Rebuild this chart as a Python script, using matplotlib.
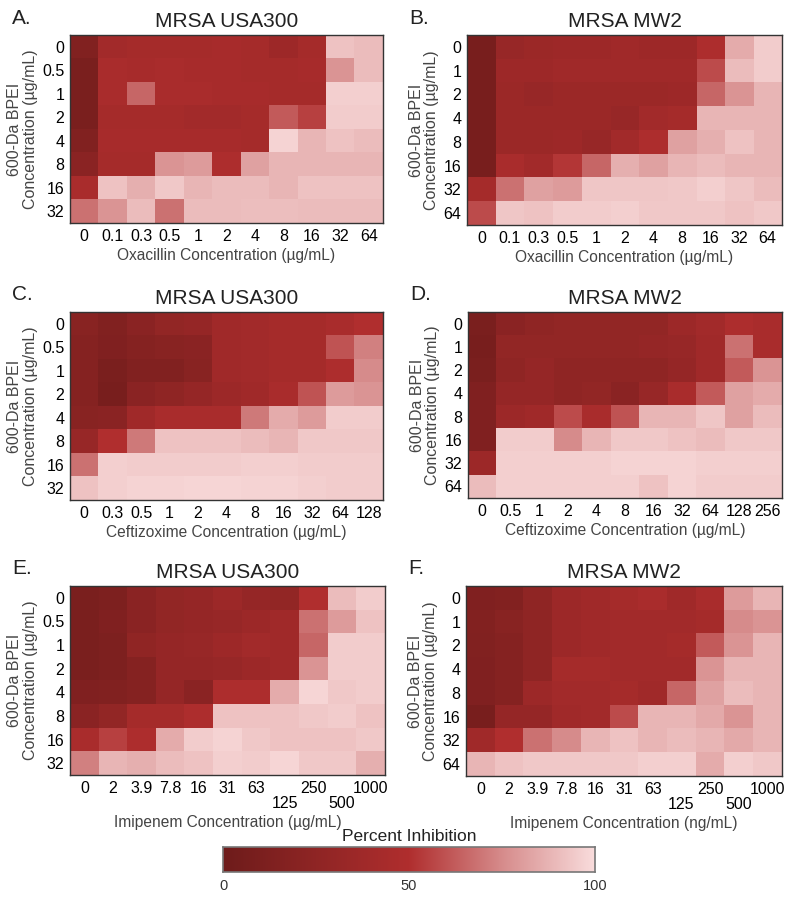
import numpy as np
import matplotlib
matplotlib.use("Agg")
import matplotlib.pyplot as plt
from matplotlib.colors import LinearSegmentedColormap

plt.rcParams['font.family'] = ['Liberation Sans', 'DejaVu Sans']

# --- data (percent inhibition) ---
oxa_labels = ['0', '0.1', '0.3', '0.5', '1', '2', '4', '8', '16', '32', '64']
cef_labels_a = ['0', '0.3', '0.5', '1', '2', '4', '8', '16', '32', '64', '128']
cef_labels_b = ['0', '0.5', '1', '2', '4', '8', '16', '32', '64', '128', '256']
imi_labels = ['0', '2', '3.9', '7.8', '16', '31', '63', '125', '250', '500', '1000']
bpei_usa = ['0', '0.5', '1', '2', '4', '8', '16', '32']
bpei_mw2 = ['0', '1', '2', '4', '8', '16', '32', '64']

oxa_usa300 = [
    [15, 40, 42, 42, 42, 44, 42, 36, 42, 92, 90],
    [10, 45, 44, 45, 44, 44, 42, 42, 44, 78, 90],
    [10, 45, 65, 45, 45, 44, 44, 42, 42, 96, 96],
    [10, 42, 42, 42, 40, 40, 42, 62, 55, 95, 95],
    [15, 44, 44, 44, 44, 44, 42, 97, 88, 92, 90],
    [22, 42, 42, 78, 80, 48, 82, 88, 88, 88, 88],
    [45, 92, 86, 94, 88, 90, 90, 88, 92, 92, 92],
    [68, 78, 90, 68, 90, 90, 91, 91, 90, 90, 90],
]
oxa_mw2 = [
    [8, 32, 34, 36, 36, 38, 36, 36, 48, 85, 95],
    [8, 36, 36, 38, 38, 38, 38, 38, 58, 90, 95],
    [8, 34, 32, 34, 34, 34, 34, 36, 65, 78, 88],
    [8, 34, 34, 34, 34, 32, 40, 42, 88, 88, 88],
    [8, 34, 34, 36, 32, 40, 48, 82, 86, 92, 88],
    [8, 45, 40, 52, 65, 86, 82, 88, 90, 88, 88],
    [42, 68, 82, 80, 93, 93, 93, 94, 96, 93, 90],
    [58, 93, 92, 95, 95, 96, 94, 94, 94, 92, 94],
]
cef_usa300 = [
    [20, 15, 22, 28, 30, 38, 40, 42, 42, 45, 50],
    [18, 14, 18, 20, 22, 38, 40, 42, 42, 60, 72],
    [18, 10, 15, 15, 20, 38, 40, 42, 42, 48, 75],
    [18, 8, 22, 25, 30, 35, 38, 45, 60, 80, 78],
    [20, 22, 38, 45, 45, 45, 70, 85, 80, 95, 95],
    [32, 50, 70, 92, 92, 92, 90, 88, 94, 94, 94],
    [68, 96, 95, 95, 95, 95, 96, 96, 95, 95, 95],
    [92, 96, 97, 97, 98, 98, 97, 97, 96, 95, 95],
]
cef_mw2 = [
    [10, 22, 25, 28, 28, 28, 28, 35, 40, 48, 45],
    [8, 28, 28, 28, 28, 28, 30, 32, 38, 68, 45],
    [10, 25, 30, 25, 25, 25, 25, 30, 38, 62, 78],
    [14, 30, 30, 25, 28, 22, 32, 45, 62, 82, 85],
    [14, 35, 38, 58, 45, 60, 88, 88, 93, 82, 90],
    [14, 95, 95, 75, 88, 94, 94, 92, 90, 94, 94],
    [35, 96, 96, 96, 96, 97, 97, 97, 96, 96, 96],
    [90, 96, 96, 96, 96, 96, 92, 97, 95, 95, 95],
]
imi_usa300 = [
    [10, 12, 22, 28, 30, 35, 30, 28, 50, 90, 95],
    [10, 14, 22, 28, 30, 32, 35, 38, 68, 80, 92],
    [10, 12, 26, 30, 32, 36, 40, 38, 65, 95, 95],
    [10, 12, 18, 30, 30, 32, 35, 38, 78, 95, 95],
    [14, 15, 18, 30, 22, 48, 48, 85, 98, 94, 95],
    [22, 28, 42, 42, 48, 92, 92, 92, 94, 95, 92],
    [45, 55, 48, 85, 95, 97, 94, 92, 92, 92, 94],
    [72, 88, 86, 90, 92, 96, 95, 98, 94, 94, 86],
]
imi_mw2 = [
    [14, 16, 25, 35, 38, 42, 45, 38, 45, 80, 88],
    [16, 20, 25, 35, 38, 40, 40, 40, 42, 75, 78],
    [15, 18, 25, 35, 38, 40, 40, 42, 62, 78, 88],
    [14, 18, 25, 42, 42, 40, 40, 40, 78, 88, 88],
    [14, 18, 35, 40, 40, 42, 38, 65, 82, 90, 88],
    [8, 30, 30, 38, 40, 58, 88, 88, 84, 78, 88],
    [38, 50, 68, 75, 88, 92, 88, 90, 88, 84, 88],
    [88, 92, 94, 94, 94, 94, 96, 96, 85, 96, 94],
]

cmap = LinearSegmentedColormap.from_list(
    'inhib', [(0.0, '#6e1c1b'), (0.5, '#b02e2e'), (0.75, '#d68b8b'), (1.0, '#f9dcdc')])

W, H = 791, 900
fig = plt.figure(figsize=(W / 100, H / 100), dpi=100)


def px(x0, y0, x1, y1):
    return [x0 / W, 1 - y1 / H, (x1 - x0) / W, (y1 - y0) / H]


def panel(box, data, xlabels, ylabels, title, letter, xlabel, stagger=False):
    ax = fig.add_axes(px(*box))
    ax.imshow(np.array(data), cmap=cmap, vmin=0, vmax=100, aspect='auto',
              interpolation='nearest')
    ax.set_xticks(range(len(xlabels)))
    ax.set_yticks(range(len(ylabels)))
    ax.set_yticklabels(ylabels, fontsize=11.5)
    labs = ax.set_xticklabels(xlabels, fontsize=11.5)
    if stagger:
        # 125 and 500 sit one row lower
        for i, lab in enumerate(labs):
            if i in (7, 9):
                lab.set_y(-0.08)
    ax.tick_params(length=0, pad=4)
    for s in ax.spines.values():
        s.set_color('#333333')
        s.set_linewidth(1.0)
    ax.set_title(title, fontsize=15, color='#222222', pad=6)
    ax.set_xlabel(xlabel, fontsize=11.2, color='#444444', labelpad=3 if not stagger else 3)
    ax.set_ylabel('600-Da BPEI\nConcentration (\u00b5g/mL)', fontsize=11.5,
                  color='#444444', labelpad=3, linespacing=1.05)
    fig.text(box[0] / W - 58 / W, 1 - (box[1] - 17) / H, letter, fontsize=15,
             color='#222222', ha='left', va='center')
    return ax


panel((70, 35, 383, 223), oxa_usa300, oxa_labels, bpei_usa, 'MRSA USA300', 'A.',
      'Oxacillin Concentration (\u00b5g/mL)')
panel((467, 35, 782, 225), oxa_mw2, oxa_labels, bpei_mw2, 'MRSA MW2', 'B.',
      'Oxacillin Concentration (\u00b5g/mL)')
panel((70, 312, 383, 500), cef_usa300, cef_labels_a, bpei_usa, 'MRSA USA300', 'C.',
      'Ceftizoxime Concentration (\u00b5g/mL)')
panel((468, 312, 782, 498), cef_mw2, cef_labels_b, bpei_mw2, 'MRSA MW2', 'D.',
      'Ceftizoxime Concentration (\u00b5g/mL)')
panel((70, 586, 385, 775), imi_usa300, imi_labels, bpei_usa, 'MRSA USA300', 'E.',
      'Imipenem Concentration (\u00b5g/mL)', stagger=True)
panel((466, 586, 782, 776), imi_mw2, imi_labels, bpei_mw2, 'MRSA MW2', 'F.',
      'Imipenem Concentration (ng/mL)', stagger=True)

# colorbar
cax = fig.add_axes(px(223, 847, 595, 872))
grad = np.linspace(0, 100, 256)[None, :]
cax.imshow(grad, cmap=cmap, vmin=0, vmax=100, aspect='auto', extent=[0, 100, 0, 1])
cax.set_yticks([])
cax.set_xticks([0, 50, 100])
cax.set_xticklabels(['0', '50', '100'], fontsize=10.5, color='#333333')
cax.tick_params(length=0, pad=5)
for s in cax.spines.values():
    s.set_color('#777777')
    s.set_linewidth(1.2)
cax.set_title('Percent Inhibition', fontsize=12.5, color='#222222', pad=4)

fig.savefig('out.png', dpi=100)
